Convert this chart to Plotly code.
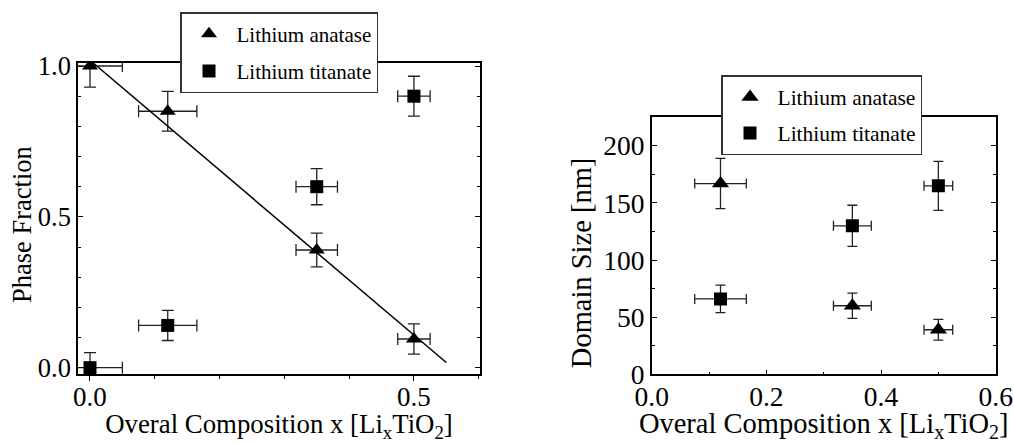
import plotly.graph_objects as go

# ---------------- data (left panel: phase fraction) ----------------
frac_x = [0.0, 0.12, 0.35, 0.5]
frac_x_err = [0.05, 0.045, 0.032, 0.025]
frac_anatase = [1.0, 0.85, 0.39, 0.095]
frac_anatase_err = [0.07, 0.066, 0.056, 0.05]
frac_titanate = [0.0, 0.14, 0.60, 0.90]
frac_titanate_err = [0.05, 0.05, 0.06, 0.066]
fit_x = [0.005, 0.55]
fit_y = [1.01, 0.017]

# ---------------- data (right panel: domain size) ----------------
size_x = [0.12, 0.35, 0.5]
size_x_err = [0.045, 0.033, 0.025]
size_anatase = [167, 60, 39]
size_anatase_err = [22, 11, 9]
size_titanate = [66, 130, 165]
size_titanate_err = [12, 18, 21.5]

FONT = "Liberation Serif"
BLACK = "#000000"

fig = go.Figure()

def add_series(x, y, xe, ye, name, symbol, size, xa, ya, legend, capw):
    fig.add_trace(go.Scatter(
        x=x, y=y, mode="markers", name=name,
        marker=dict(symbol=symbol, size=size, color=BLACK),
        error_x=dict(type="data", array=xe, color="#222222", thickness=1.3, width=capw),
        error_y=dict(type="data", array=ye, color="#222222", thickness=1.3, width=capw),
        xaxis=xa, yaxis=ya, legend=legend, legendgroup=name + legend,
        cliponaxis=True,
    ))

add_series(frac_x, frac_anatase, frac_x_err, frac_anatase_err, "Lithium anatase",
           "triangle-up", 14, "x", "y", "legend", 6)
add_series(frac_x, frac_titanate, frac_x_err, frac_titanate_err, "Lithium titanate",
           "square", 13, "x", "y", "legend", 6)
fig.add_trace(go.Scatter(x=fit_x, y=fit_y, mode="lines", line=dict(color=BLACK, width=1.5),
                         showlegend=False, xaxis="x", yaxis="y", hoverinfo="skip"))

add_series(size_x, size_anatase, size_x_err, size_anatase_err, "Lithium anatase",
           "triangle-up", 15, "x2", "y2", "legend2", 5)
add_series(size_x, size_titanate, size_x_err, size_titanate_err, "Lithium titanate",
           "square", 13, "x2", "y2", "legend2", 5)

W, H = 1014, 443
def dx(a, b):
    return [a / W, b / W]
def dy(top, bottom):
    return [1 - bottom / H, 1 - top / H]

title_txt = "Overal Composition x [Li<sub>x</sub>TiO<sub>2</sub>]"

axis_common = dict(showline=True, linecolor=BLACK, linewidth=1.6, showgrid=False,
                   zeroline=False, tickcolor=BLACK, tickwidth=1.3, automargin=False)

fig.update_layout(
    template="none",
    width=W, height=H,
    margin=dict(l=0, r=0, t=0, b=0),
    paper_bgcolor="white", plot_bgcolor="white",
    font=dict(family=FONT, color=BLACK),
    xaxis=dict(domain=dx(78, 480), anchor="y", range=[-0.0185, 0.602],
               tickvals=[0.0, 0.5], ticktext=["0.0", "0.5"], ticks="outside", ticklen=5,
               mirror=True, ticklabelstandoff=-7,
               minor=dict(dtick=0.1, tick0=0, ticks="outside", ticklen=3, tickcolor=BLACK, tickwidth=1.2),
               tickfont=dict(size=27, family=FONT),
               title=dict(text=title_txt, font=dict(size=26.8, family=FONT), standoff=14),
               **axis_common),
    yaxis=dict(domain=dy(63, 374), anchor="x", range=[-0.021, 1.01],
               tickvals=[0.0, 0.5, 1.0], ticktext=["0.0", "0.5", "1.0"], ticks="inside", ticklen=5,
               mirror="ticks",
               minor=dict(dtick=0.1, tick0=0, ticks="inside", ticklen=3, tickcolor=BLACK, tickwidth=1.2),
               tickfont=dict(size=26.5, family=FONT),
               **axis_common),
    xaxis2=dict(domain=dx(651.7, 995.7), anchor="y2", range=[0, 0.6],
                tickvals=[0.0, 0.2, 0.4, 0.6], ticktext=["0.0", "0.2", "0.4", "0.6"],
                ticks="inside", ticklen=5, mirror=True, ticklabelstandoff=-3,
                minor=dict(dtick=0.1, tick0=0, ticks="inside", ticklen=3, tickcolor=BLACK, tickwidth=1.2),
                tickfont=dict(size=27.5, family=FONT),
                title=dict(text=title_txt, font=dict(size=28.5, family=FONT), standoff=8),
                **axis_common),
    yaxis2=dict(domain=dy(117.3, 374.3), anchor="x2", range=[0, 225],
                tickvals=[0, 50, 100, 150, 200], ticktext=["0", "50", "100", "150", "200"],
                ticks="inside", ticklen=5, mirror="ticks",
                minor=dict(dtick=25, tick0=0, ticks="inside", ticklen=3, tickcolor=BLACK, tickwidth=1.2),
                tickfont=dict(size=27.5, family=FONT),
                **axis_common),
    legend=dict(x=180 / W, y=1 - 12 / H, xanchor="left", yanchor="top",
                bgcolor="white", bordercolor="#333333", borderwidth=1.5,
                font=dict(size=21, family=FONT), itemwidth=45, tracegroupgap=7,
                traceorder="grouped"),
    legend2=dict(x=721 / W, y=1 - 75 / H, xanchor="left", yanchor="top",
                 bgcolor="white", bordercolor="#333333", borderwidth=1.5,
                 font=dict(size=21.5, family=FONT), itemwidth=45, tracegroupgap=5,
                 traceorder="grouped"),
    showlegend=True,
    annotations=[
        dict(text="Phase Fraction", textangle=-90, xref="paper", yref="paper",
             x=22 / W, y=1 - 225 / H, xanchor="center", yanchor="middle", showarrow=False,
             font=dict(size=26.5, family=FONT, color=BLACK)),
        dict(text="Domain Size [nm]", textangle=-90, xref="paper", yref="paper",
             x=581.7 / W, y=1 - 262.5 / H, xanchor="center", yanchor="middle", showarrow=False,
             font=dict(size=28.5, family=FONT, color=BLACK)),
    ],
)

fig.write_html("out.html")
